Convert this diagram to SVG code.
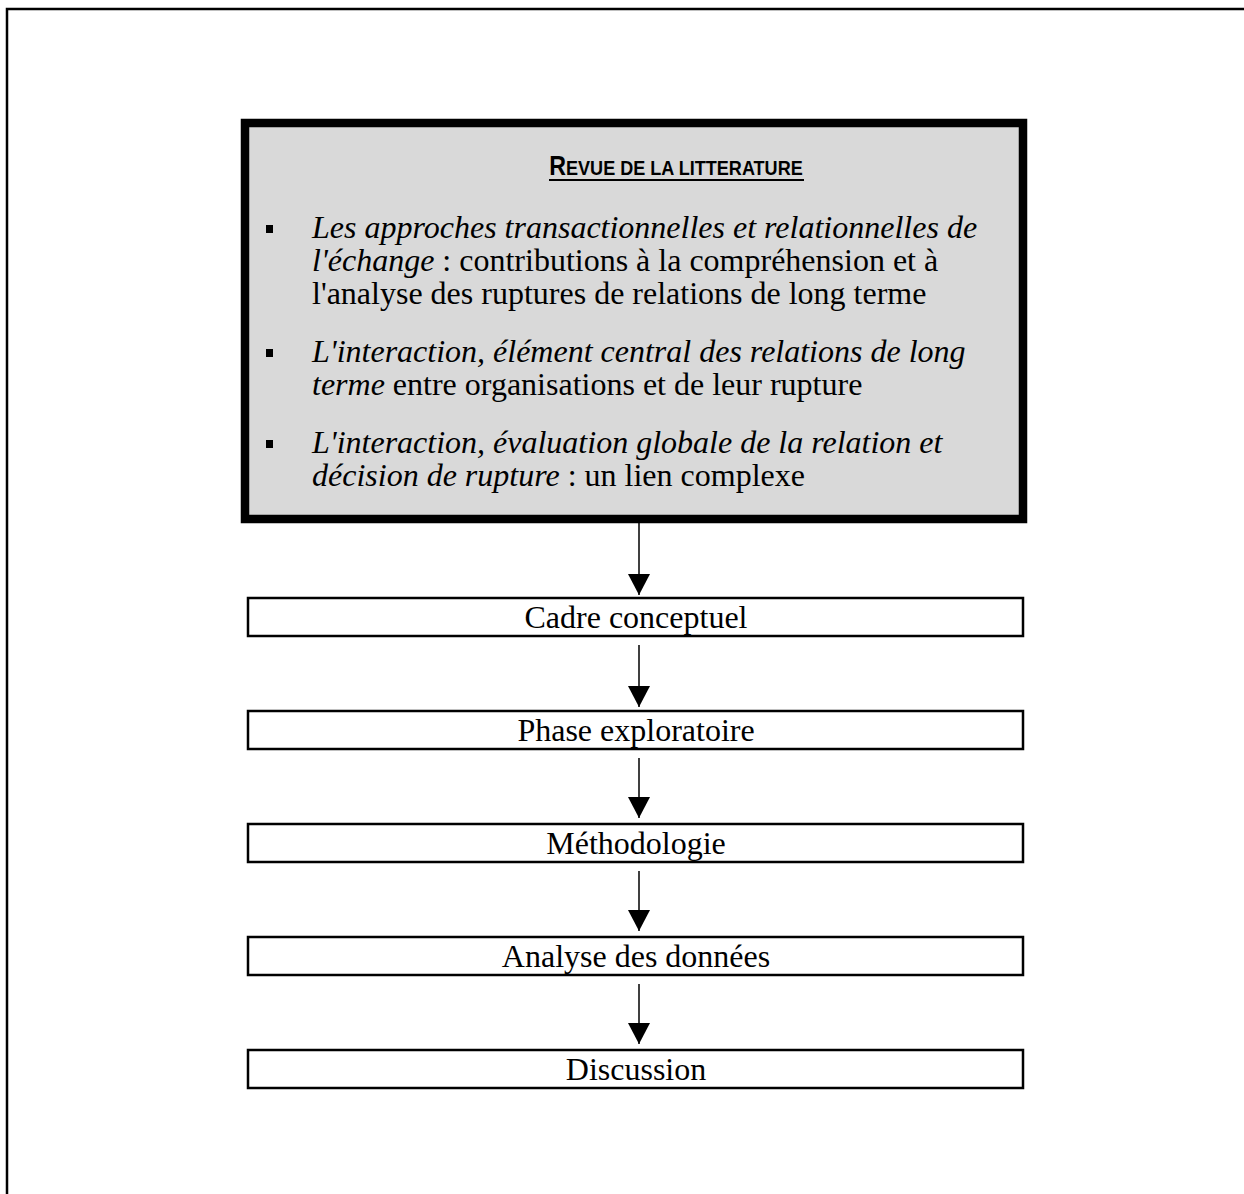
<svg xmlns="http://www.w3.org/2000/svg" width="1244" height="1194" viewBox="0 0 1244 1194">
<style>
.t{font-family:"Liberation Serif","Times New Roman",serif;font-size:32px;fill:#000}
.i{font-style:italic}
.box{fill:#fff;stroke:#000;stroke-width:2.5}
.ttl{font-family:"Liberation Sans",Arial,sans-serif;font-weight:bold;fill:#000}
.con{stroke:#000;stroke-width:1.5;fill:none}
</style>
<defs>
<marker id="ah" markerUnits="userSpaceOnUse" markerWidth="22" markerHeight="22" refX="21" refY="11" orient="auto" viewBox="0 0 22 22">
<path d="M0,0 L21,11 L0,22 z" fill="#000"/>
</marker>
</defs>
<rect width="1244" height="1194" fill="#fff"/>
<path d="M7,1194 V9 H1244" fill="none" stroke="#000" stroke-width="2.5"/>
<g id="revue">
<rect x="245" y="123" width="778" height="396" fill="#d9d9d9" stroke="#000" stroke-width="8.5"/>
<text class="ttl" transform="translate(676,175) scale(0.86,1)" text-anchor="middle"><tspan font-size="27">R</tspan><tspan font-size="21">EVUE DE LA LITTERATURE</tspan></text>
<line x1="549" y1="180" x2="804" y2="180" stroke="#000" stroke-width="2.2"/>
<rect x="266" y="225" width="7" height="8" fill="#000"/>
<text class="t" x="312" y="238"><tspan class="i">Les approches transactionnelles et relationnelles de</tspan></text>
<text class="t" x="312" y="271"><tspan class="i">l'échange</tspan> : contributions à la compréhension et à</text>
<text class="t" x="312" y="304">l'analyse des ruptures de relations de long terme</text>
<rect x="266" y="349" width="7" height="8" fill="#000"/>
<text class="t" x="312" y="362"><tspan class="i">L'interaction, élément central des relations de long</tspan></text>
<text class="t" x="312" y="395"><tspan class="i">terme</tspan> entre organisations et de leur rupture</text>
<rect x="266" y="440" width="7" height="8" fill="#000"/>
<text class="t" x="312" y="453"><tspan class="i">L'interaction, évaluation globale de la relation et</tspan></text>
<text class="t" x="312" y="486"><tspan class="i">décision de rupture</tspan> : un lien complexe</text>
</g>
<g id="cadre">
<rect class="box" x="248" y="598" width="775" height="38"/>
<text class="t" x="636" y="628" text-anchor="middle">Cadre conceptuel</text>
</g>
<g id="phase">
<rect class="box" x="248" y="711" width="775" height="38"/>
<text class="t" x="636" y="741" text-anchor="middle">Phase exploratoire</text>
</g>
<g id="methodo">
<rect class="box" x="248" y="824" width="775" height="38"/>
<text class="t" x="636" y="854" text-anchor="middle">Méthodologie</text>
</g>
<g id="analyse">
<rect class="box" x="248" y="937" width="775" height="38"/>
<text class="t" x="636" y="967" text-anchor="middle">Analyse des données</text>
</g>
<g id="discussion">
<rect class="box" x="248" y="1050" width="775" height="38"/>
<text class="t" x="636" y="1080" text-anchor="middle">Discussion</text>
</g>
<g id="connectors">
<line class="con" x1="639" y1="523" x2="639" y2="595" marker-end="url(#ah)"/>
<line class="con" x1="639" y1="645" x2="639" y2="707" marker-end="url(#ah)"/>
<line class="con" x1="639" y1="758" x2="639" y2="818" marker-end="url(#ah)"/>
<line class="con" x1="639" y1="871" x2="639" y2="931" marker-end="url(#ah)"/>
<line class="con" x1="639" y1="984" x2="639" y2="1044" marker-end="url(#ah)"/>
</g>
</svg>
